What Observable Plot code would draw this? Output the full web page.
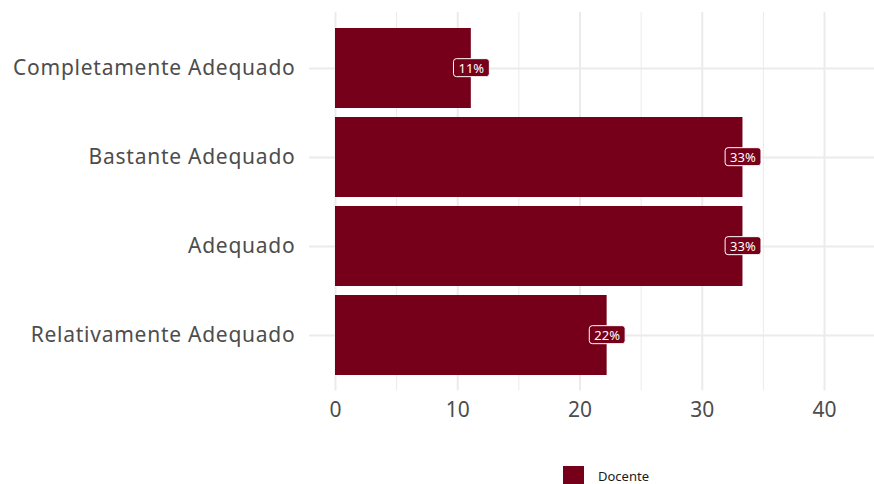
<!DOCTYPE html>
<html><head><meta charset="utf-8">
<script src="https://cdn.jsdelivr.net/npm/d3@7"></script>
<script src="https://cdn.jsdelivr.net/npm/@observablehq/plot@0.6"></script>
<style>
html,body{margin:0;padding:0;background:#fff;overflow:hidden;}
body{width:874px;height:484px;font-family:"Noto Sans",sans-serif;}
#legend{position:relative;height:44px;}
#legend .key{position:absolute;left:563px;top:26px;width:21px;height:21px;}
#legend .lab{position:absolute;left:598px;top:27px;font-size:13px;line-height:18px;color:#1a1a1a;}
</style></head><body><div id="chart"></div><div id="legend"></div>
<script>
const categories = ["Completamente Adequado","Bastante Adequado","Adequado","Relativamente Adequado"];
const values = [11.11, 33.33, 33.33, 22.22];
const labels = ["11%", "33%", "33%", "22%"];
const majorTicks = [0, 10, 20, 30, 40];
const minorTicks = [5, 15, 25, 35];
const seriesName = "Docente";
const barColor = "#76001a";

const data = categories.map((c, i) => ({category: c, value: values[i], label: labels[i]}));

const plot = Plot.plot({
  width: 874, height: 440,
  marginLeft: 309, marginRight: 0, marginTop: 12, marginBottom: 49.5,
  style: {fontFamily: "'Noto Sans', sans-serif", background: "white"},
  x: {domain: [-2.127, 44.09]},
  y: {domain: categories, paddingInner: 0.1, paddingOuter: 0.16},
  marks: [
    Plot.ruleX(minorTicks, {stroke: "#ebebeb", strokeWidth: 1}),
    Plot.ruleX(majorTicks, {stroke: "#ebebeb", strokeWidth: 2}),
    Plot.ruleY(categories, {y: d => d, stroke: "#ebebeb", strokeWidth: 2}),
    Plot.barX(data, {x: "value", y: "category", fill: barColor}),
    Plot.text(data, {x: "value", y: "category", text: "label", fill: "white", fontSize: 13}),
    Plot.axisX(majorTicks, {tickSize: 0, tickPadding: 11, fontSize: 21, fill: "#4d4d4d", label: null}),
    Plot.axisY({tickSize: 0, tickPadding: 14, fontSize: 21, fill: "#4d4d4d", label: null})
  ]
});
document.getElementById("chart").appendChild(plot);

// slightly wider tracking to approximate the original typeface
plot.querySelectorAll("g[aria-label='y-axis tick label'] text").forEach(t => t.setAttribute("letter-spacing", "0.75"));

// label boxes behind the percentage texts
plot.querySelectorAll("text").forEach(t => {
  if (!/%$/.test(t.textContent)) return;
  const b = t.getBBox();
  const r = document.createElementNS("http://www.w3.org/2000/svg", "rect");
  const cx = b.x + b.width / 2;
  const cy = b.y + b.height / 2;
  const w = b.width + 10;
  r.setAttribute("x", cx - w / 2);
  r.setAttribute("width", w);
  r.setAttribute("y", cy - 9);
  r.setAttribute("height", 18);
  r.setAttribute("rx", 3);
  r.setAttribute("fill", barColor);
  r.setAttribute("stroke", "white");
  r.setAttribute("stroke-width", 1);
  if (t.getAttribute("transform")) r.setAttribute("transform", t.getAttribute("transform"));
  t.parentNode.insertBefore(r, t);
});

const lg = document.getElementById("legend");
lg.innerHTML = `<div class="key" style="background:${barColor}"></div><div class="lab">${seriesName}</div>`;
</script></body></html>
